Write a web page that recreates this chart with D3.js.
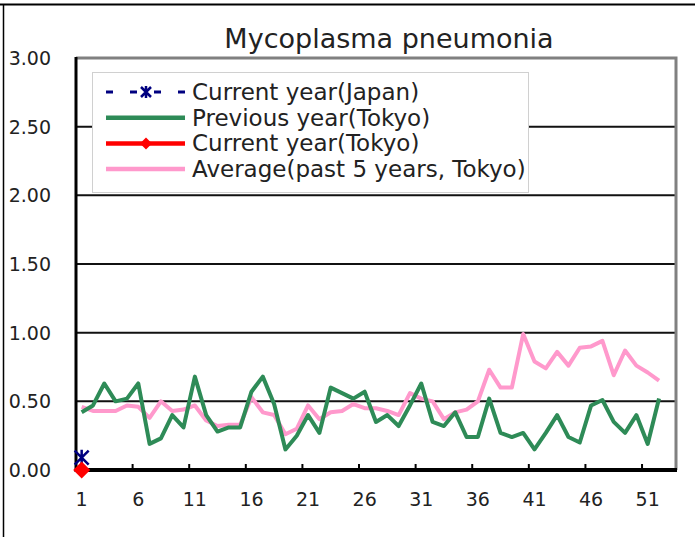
<!DOCTYPE html>
<html lang="en">
<head>
    <meta charset="UTF-8">
    <title>Mycoplasma pneumonia</title>
    <script src="https://d3js.org/d3.v7.min.js"></script>
    <style>
        body { margin: 0; background: #fff; }
        text {
            font-family: "DejaVu Sans", sans-serif;
            fill: #222;
        }
    </style>
</head>
<body>
    <svg width="695" height="537"></svg>
    <script>
        // weeks 1..53 on the category axis, data runs to week 52
        const weeks = d3.range(1, 54);
        const xTickLabels = [1, 6, 11, 16, 21, 26, 31, 36, 41, 46, 51];
        const yTicks = [0, 0.5, 1, 1.5, 2, 2.5, 3];

        const currentJapan = [0.09];
        const currentTokyo = [0.0];
        const previousTokyo = [
            0.42, 0.47, 0.63, 0.50, 0.52, 0.63, 0.19, 0.23, 0.40, 0.31,
            0.68, 0.40, 0.28, 0.31, 0.31, 0.57, 0.68, 0.48, 0.15, 0.25,
            0.40, 0.27, 0.60, 0.56, 0.52, 0.57, 0.35, 0.40, 0.32, 0.47,
            0.63, 0.35, 0.32, 0.42, 0.24, 0.24, 0.52, 0.27, 0.24, 0.27,
            0.15, 0.27, 0.40, 0.24, 0.20, 0.47, 0.51, 0.35, 0.27, 0.40,
            0.19, 0.52
        ];
        const averageTokyo = [
            0.46, 0.43, 0.43, 0.43, 0.47, 0.46, 0.38, 0.50, 0.43, 0.44,
            0.47, 0.36, 0.32, 0.33, 0.33, 0.53, 0.42, 0.40, 0.26, 0.30,
            0.47, 0.37, 0.42, 0.43, 0.48, 0.45, 0.45, 0.43, 0.40, 0.56,
            0.52, 0.50, 0.37, 0.42, 0.44, 0.50, 0.73, 0.60, 0.60, 0.99,
            0.79, 0.74, 0.86, 0.76, 0.89, 0.90, 0.94, 0.69, 0.87, 0.76,
            0.71, 0.65
        ];

        const svg = d3.select("svg");
        const plotL = 76, plotR = 676, plotT = 58, plotB = 470;

        const x = d3.scaleBand().domain(weeks).range([plotL, plotR]).padding(0);
        const y = d3.scaleLinear().domain([0, 3]).range([plotB, plotT]);
        const cx = w => x(w) + x.bandwidth() / 2;

        // outer frame (only top and left edges show)
        svg.append("line").attr("x1", 0).attr("x2", 695).attr("y1", 4.5).attr("y2", 4.5)
            .attr("stroke", "#000").attr("stroke-width", 2);
        svg.append("line").attr("x1", 3.5).attr("x2", 3.5).attr("y1", 4).attr("y2", 537)
            .attr("stroke", "#000").attr("stroke-width", 1.5);

        svg.append("text")
            .attr("x", 389).attr("y", 48)
            .attr("text-anchor", "middle")
            .style("font-size", "27px")
            .text("Mycoplasma pneumonia");

        // gridlines
        svg.append("g").selectAll("line")
            .data(yTicks.filter(d => d > 0 && d < 3))
            .enter().append("line")
            .attr("x1", plotL).attr("x2", plotR)
            .attr("y1", d => y(d)).attr("y2", d => y(d))
            .attr("stroke", "#111").attr("stroke-width", 2);

        // plot border top / right in gray
        svg.append("path")
            .attr("d", `M${plotL},${plotT}H${plotR}V${plotB}`)
            .attr("fill", "none").attr("stroke", "#808080").attr("stroke-width", 3);

        // y labels
        svg.append("g").selectAll("text")
            .data(yTicks)
            .enter().append("text")
            .attr("x", 51).attr("y", d => y(d) + 7)
            .attr("text-anchor", "end")
            .style("font-size", "19px")
            .text(d => d.toFixed(2));

        // x ticks on category boundaries, every 5 weeks
        svg.append("g").selectAll("line")
            .data(xTickLabels.slice(1))
            .enter().append("line")
            .attr("x1", d => x(d)).attr("x2", d => x(d))
            .attr("y1", plotB - 6).attr("y2", plotB)
            .attr("stroke", "#000").attr("stroke-width", 2);

        svg.append("g").selectAll("text")
            .data(xTickLabels)
            .enter().append("text")
            .attr("x", d => cx(d)).attr("y", 506)
            .attr("text-anchor", "middle")
            .style("font-size", "19px")
            .text(d => d);

        // axes
        svg.append("line").attr("x1", plotL).attr("x2", plotL).attr("y1", plotT - 1).attr("y2", plotB + 2)
            .attr("stroke", "#000").attr("stroke-width", 3);
        svg.append("line").attr("x1", plotL - 1).attr("x2", plotR + 1).attr("y1", plotB).attr("y2", plotB)
            .attr("stroke", "#000").attr("stroke-width", 4);

        const line = d3.line()
            .x((d, i) => cx(weeks[i]))
            .y(d => y(d));

        svg.append("path").datum(averageTokyo)
            .attr("d", line).attr("fill", "none")
            .attr("stroke", "#FF99CC").attr("stroke-width", 4).attr("stroke-linejoin", "round");

        svg.append("path").datum(previousTokyo)
            .attr("d", line).attr("fill", "none")
            .attr("stroke", "#2E8B57").attr("stroke-width", 4).attr("stroke-linejoin", "round");

        const star = s => `M${-s},${-s}L${s},${s}M${-s},${s}L${s},${-s}M0,${-s - 1}L0,${s + 1}`;
        const diamond = s => `M0,${-s}L${s},0L0,${s}L${-s},0Z`;

        svg.append("g").selectAll("path")
            .data(currentJapan)
            .enter().append("path")
            .attr("transform", (d, i) => `translate(${cx(weeks[i])},${y(d)})`)
            .attr("d", star(7))
            .attr("fill", "none").attr("stroke", "#000080").attr("stroke-width", 2.5);

        svg.append("g").selectAll("path")
            .data(currentTokyo)
            .enter().append("path")
            .attr("transform", (d, i) => `translate(${cx(weeks[i])},${y(d)})`)
            .attr("d", diamond(8.5))
            .attr("fill", "#FF0000");

        // legend
        const legend = svg.append("g");
        legend.append("rect")
            .attr("x", 92.5).attr("y", 72.5).attr("width", 436).attr("height", 120)
            .attr("fill", "#fff").attr("stroke", "#d0d0d0");

        const entries = [
            { label: "Current year(Japan)", color: "#000080", dash: "7,17", marker: "star" },
            { label: "Previous year(Tokyo)", color: "#2E8B57" },
            { label: "Current year(Tokyo)", color: "#FF0000", marker: "diamond" },
            { label: "Average(past 5 years, Tokyo)", color: "#FF99CC" }
        ];

        const row = legend.selectAll(".entry")
            .data(entries)
            .enter().append("g")
            .attr("transform", (d, i) => `translate(0,${92 + i * 25.7})`);

        row.append("line")
            .attr("x1", 106).attr("x2", 185)
            .attr("stroke", d => d.color)
            .attr("stroke-width", d => d.dash ? 3 : 4.5)
            .attr("stroke-dasharray", d => d.dash || null);

        row.filter(d => d.marker === "star").append("path")
            .attr("transform", "translate(146,0)")
            .attr("d", star(5))
            .attr("fill", "none").attr("stroke", "#000080").attr("stroke-width", 2.5);

        row.filter(d => d.marker === "diamond").append("path")
            .attr("transform", "translate(146,0)")
            .attr("d", diamond(6))
            .attr("fill", "#FF0000");

        row.append("text")
            .attr("x", 192).attr("y", 8)
            .style("font-size", "23px")
            .text(d => d.label);
    </script>
</body>
</html>
